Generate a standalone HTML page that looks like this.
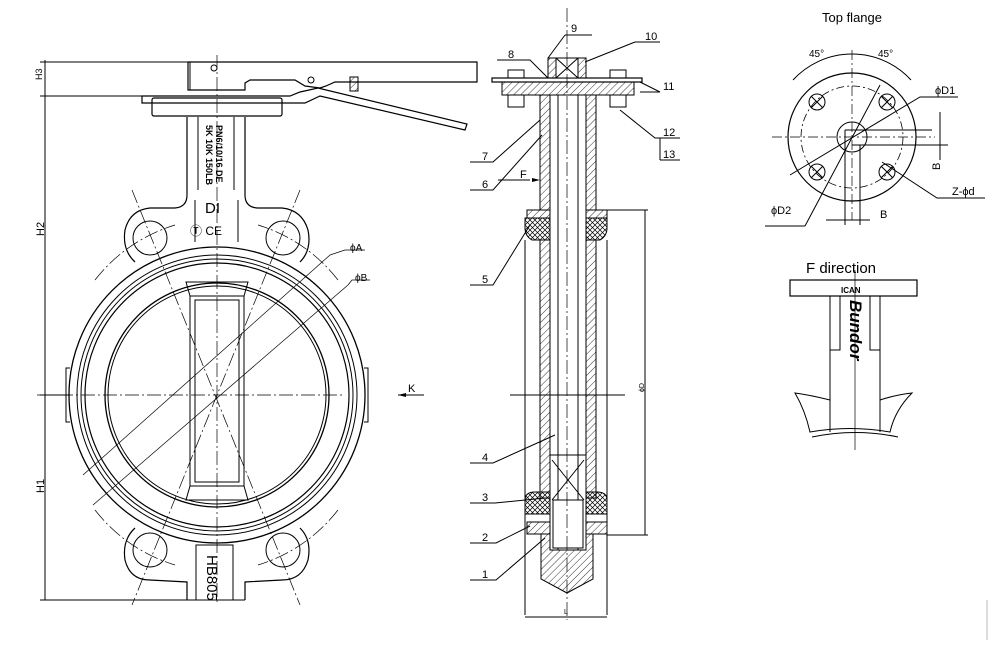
<!DOCTYPE html>
<html><head><meta charset="utf-8"><style>
html,body{margin:0;padding:0;background:#fff}
svg{display:block}
text{font-family:"Liberation Sans Narrow","Liberation Sans",sans-serif;fill:#000}
</style></head><body>
<svg width="988" height="656" viewBox="0 0 988 656" xmlns="http://www.w3.org/2000/svg">
<defs>
<pattern id="h" width="5" height="5" patternUnits="userSpaceOnUse" patternTransform="rotate(45)"><line x1="0" y1="0" x2="0" y2="5" stroke="#000" stroke-width="0.8"/></pattern>
<pattern id="x" width="5" height="5" patternUnits="userSpaceOnUse"><path d="M0 0L5 5M5 0L0 5" stroke="#000" stroke-width="0.7"/></pattern>
</defs>
<g fill="none" stroke="#000" stroke-width="1">
<line x1="45" y1="60" x2="45" y2="600"/>
<line x1="40" y1="62" x2="190" y2="62"/>
<line x1="40" y1="96" x2="150" y2="96"/>
<line x1="40" y1="395" x2="70" y2="395"/>
<line x1="40" y1="600" x2="245" y2="600"/>
<path d="M188 62 L188 90 L245 90 L245 83 L250 80 L295 80 L305 86 L320 88 L326 86 L335 82 L477 82 L477 62 Z" stroke-width="1.2"/>
<path d="M190 62 L190 90"/>
<path d="M142 96 L290 96 L300 92 L318 88 L467 124 L465 130 L320 96 L305 103 L290 103 L142 103 Z" stroke-width="1.2"/>
<rect x="350" y="77" width="8" height="14" fill="url(#h)"/>
<circle cx="214" cy="68" r="3"/><circle cx="311" cy="80" r="3"/>
<rect x="152" y="98" width="130" height="18" rx="2" stroke-width="1.2"/>
<path d="M187 117 L187 195 Q187 207 175 208 L150 208 Q130 210 125 230 Q122 250 135 262" stroke-width="1.2"/>
<path d="M245 117 L245 195 Q245 207 257 208 L282 208 Q302 210 308 230 Q312 250 300 262" stroke-width="1.2"/>
<path d="M198 117 L198 190 M234 117 L234 190"/>
<path d="M195 200 L195 242 M238 200 L238 242"/>
<circle cx="150" cy="238" r="17"/><circle cx="283" cy="238" r="17"/>
<circle cx="217" cy="395" r="148" stroke-width="1.3"/>
<circle cx="217" cy="395" r="140"/>
<circle cx="217" cy="395" r="136"/>
<circle cx="217" cy="395" r="132" stroke-width="1.2"/>
<circle cx="217" cy="395" r="112" stroke-width="1.3"/>
<circle cx="217" cy="395" r="109"/>
<path d="M70 368 L66 368 L66 422 L70 422 M364 368 L368 368 L368 422 L364 422"/>
<path d="M186 282 L248 282 L244 296 L190 296 Z M186 500 L248 500 L244 486 L190 486 Z"/>
<rect x="190" y="296" width="54" height="190"/>
<rect x="195" y="300" width="44" height="182"/>
<path d="M135 528 Q122 540 125 560 Q130 580 150 580 L187 582 L187 600 M300 528 Q312 540 308 560 Q302 580 282 580 L245 582 L245 600" stroke-width="1.2"/>
<circle cx="150" cy="550" r="17"/><circle cx="283" cy="550" r="17"/>
<rect x="196" y="545" width="37" height="55"/>
<g stroke-dasharray="14 3 2 3" stroke-width="0.7">
<line x1="37" y1="395" x2="345" y2="395"/>
<line x1="217" y1="55" x2="217" y2="605"/>
<line x1="132" y1="190" x2="300" y2="605"/>
<line x1="300" y1="190" x2="132" y2="605"/>
<path d="M95 280 A160 160 0 0 1 175 225"/><path d="M338 280 A160 160 0 0 0 258 225"/>
<path d="M95 510 A160 160 0 0 0 175 565"/><path d="M338 510 A160 160 0 0 1 258 565"/>
</g>
<line x1="83" y1="475" x2="330" y2="255" stroke-width="0.7"/>
<line x1="93" y1="505" x2="348" y2="285" stroke-width="0.7"/>
<path d="M330 255 L345 250 L365 250 M348 285 L352 280 L370 280" stroke-width="0.7"/>
<path d="M398 395 L424 395"/>

<rect x="492" y="78" width="150" height="4" stroke-width="1.2"/>
<rect x="502" y="82" width="132" height="13" fill="url(#h)"/>
<path d="M508 95h16v12h-16z M610 95h16v12h-16z"/>
<path d="M508 70h16v8h-16z M610 70h16v8h-16z"/>
<path d="M548 58 h38 v20 h-38z" fill="url(#h)"/>
<path d="M556 58 h22 v20 h-22z M556 58 L578 78 M578 58 L556 78" fill="#fff"/>
<rect x="540" y="95" width="56" height="115" fill="url(#h)"/>
<rect x="527" y="210" width="80" height="8" fill="url(#h)"/>
<path d="M525 218 h25 v22 h-18 q-7 -4 -7 -12z M607 218 h-25 v22 h18 q7 -4 7 -12z" fill="url(#x)"/>
<path d="M540 240 h56 v258 h-56z" fill="url(#h)"/>
<path d="M525 500 q0 -8 10 -8 h15 v22 h-25z M607 500 q0 -8 -10 -8 h-15 v22 h25z" fill="url(#x)"/>
<rect x="527" y="522" width="80" height="12" fill="url(#h)"/>
<path d="M541 534 h52 v45 l-26 14 l-26 -14z" fill="url(#h)"/>
<rect x="550" y="95" width="36" height="455" fill="#fff"/>
<path d="M558 95 V550 M578 95 V550"/>
<path d="M550 455 L586 455 M552 460 L584 500 M584 460 L552 500"/>
<rect x="553" y="500" width="30" height="48" fill="#fff"/>
<line x1="567" y1="8" x2="567" y2="620" stroke-dasharray="14 3 2 3" stroke-width="0.7"/>
<line x1="510" y1="395" x2="625" y2="395"/>
<path d="M525 240 V615 M607 240 V615 M525 617 H607"/>
<path d="M607 210 H648 M607 535 H648 M645 210 V535"/>
<path d="M565 35h27 M565 35 L548 58"/>
<path d="M635 42h25 M635 42 L585 62"/>
<path d="M497 60h33 L548 78"/>
<path d="M640 92h20 M660 92 L640 82"/>
<path d="M620 110 L655 138 h25 M660 138 V160 M660 160h20"/>
<path d="M470 162h23 L540 120"/>
<path d="M470 190h23 L542 135"/>
<path d="M498 180 L530 180"/>
<path d="M470 285h23 L530 225"/>
<path d="M470 463h23 L555 435"/>
<path d="M470 503h25 L545 498"/>
<path d="M470 543h26 L530 526"/>
<path d="M470 580h26 L545 538"/>

<circle cx="852" cy="137" r="64" stroke-width="1.2"/>
<circle cx="852" cy="137" r="51" stroke-dasharray="8 3 2 3" stroke-width="0.8"/>
<circle cx="852" cy="137" r="15"/>
<circle cx="817" cy="102" r="8"/><circle cx="887" cy="102" r="8"/>
<circle cx="817" cy="172" r="8"/><circle cx="887" cy="172" r="8"/>
<path d="M811 96l12 12M823 96l-12 12M881 96l12 12M893 96l-12 12M811 166l12 12M823 166l-12 12M881 166l12 12M893 166l-12 12"/>
<path d="M845 130 H932 M852 145 H948 M845 130 V225 M860 145 V225"/>
<path d="M793 80 A80 80 0 0 1 911 80"/>
<line x1="772" y1="137" x2="935" y2="137" stroke-dasharray="10 3 2 3" stroke-width="0.7"/>
<line x1="852" y1="50" x2="852" y2="220" stroke-dasharray="10 3 2 3" stroke-width="0.7"/>
<path d="M790 175 L920 97 L958 97 M882 162 L937 198 L985 198 M805 226 L880 85 M765 226 H805 M826 220 H870 M940 112 V160"/>
<rect x="790" y="280" width="127" height="16" stroke-width="1.2"/>
<path d="M830 296 V432 M880 296 V432 M840 296 V350 H830 M870 296 V350 H880"/>
<path d="M830 400 Q810 395 795 393 Q805 410 810 432 Q850 425 890 432 Q895 410 912 393 Q895 395 880 400"/>
<path d="M812 437 Q855 428 898 437"/>
<line x1="855" y1="270" x2="855" y2="450" stroke-width="0.7"/>
<path d="M987 600 V640" stroke="#bbb"/>
</g>
<g fill="#000" stroke="none">
<path d="M398 395 l8 -2 v4z"/>
<path d="M540 180 l-8 -2 v4z"/>
</g>
<g font-size="11">
<text x="38" y="84" transform="rotate(-90 38 80)" font-size="9">H3</text>
<text x="40" y="240" transform="rotate(-90 40 236)">H2</text>
<text x="40" y="497" transform="rotate(-90 40 493)">H1</text>
<text x="350" y="251" font-size="10">ϕA</text>
<text x="355" y="281" font-size="10">ϕB</text>
<text x="408" y="392" font-size="11">K</text>
<text x="205" y="213" font-size="15">DI</text>
<text x="190" y="235" font-size="12">Ⓣ CE</text>
<text x="216" y="125" transform="rotate(90 216 125)" font-size="9" font-weight="bold">PN6/10/16 DE</text>
<text x="206" y="125" transform="rotate(90 206 125)" font-size="9" font-weight="bold">5K 10K 150LB</text>
<text x="207" y="555" transform="rotate(90 207 555)" font-size="15">HB805</text>
<text x="571" y="32" font-size="11">9</text>
<text x="645" y="40" font-size="11">10</text>
<text x="508" y="58" font-size="11">8</text>
<text x="663" y="90" font-size="11">11</text>
<text x="663" y="136" font-size="11">12</text>
<text x="663" y="158" font-size="11">13</text>
<text x="482" y="160" font-size="11">7</text>
<text x="482" y="188" font-size="11">6</text>
<text x="520" y="178" font-size="11">F</text>
<text x="482" y="283" font-size="11">5</text>
<text x="482" y="461" font-size="11">4</text>
<text x="482" y="501" font-size="11">3</text>
<text x="482" y="541" font-size="11">2</text>
<text x="482" y="578" font-size="11">1</text>
<text x="644" y="392" transform="rotate(-90 644 392)" font-size="7">ϕD</text>
<text x="564" y="614" font-size="7">L</text>
<text x="822" y="22" font-size="13">Top flange</text>
<text x="809" y="57" font-size="10">45°</text>
<text x="878" y="57" font-size="10">45°</text>
<text x="935" y="94" font-size="11">ϕD1</text>
<text x="771" y="214" font-size="11">ϕD2</text>
<text x="880" y="218" font-size="11">B</text>
<text x="940" y="170" transform="rotate(-90 940 170)" font-size="11">B</text>
<text x="952" y="195" font-size="11">Z-ϕd</text>
<text x="806" y="273" font-size="15">F  direction</text>
<text x="841" y="293" font-size="8" font-weight="bold">ICAN</text>
<text x="850" y="300" transform="rotate(90 850 300)" font-size="17" font-style="italic" font-weight="bold">Bundor</text>
</g>
</svg>
</body></html>
